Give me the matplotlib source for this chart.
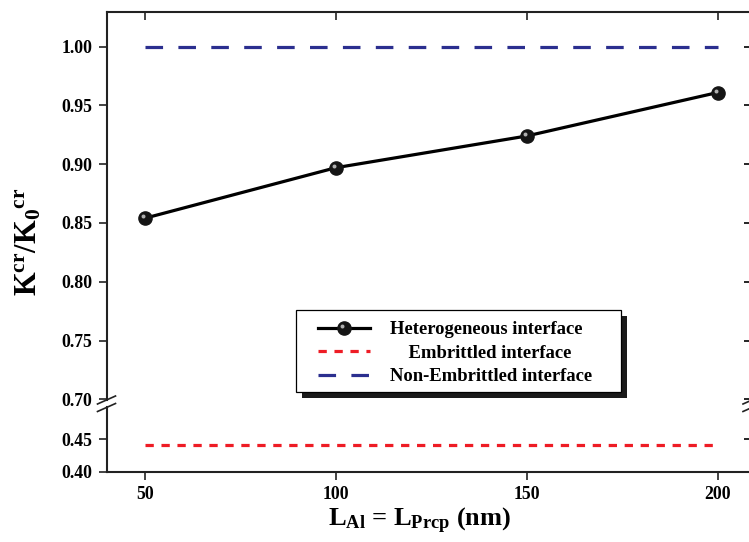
import matplotlib
matplotlib.use("Agg")
import matplotlib.pyplot as plt
import numpy as np
from matplotlib.lines import Line2D
from matplotlib.patches import Rectangle
from matplotlib.path import Path

plt.rcParams['font.family'] = ['Liberation Serif', 'DejaVu Serif']
plt.rcParams['font.weight'] = 'bold'
plt.rcParams['mathtext.fontset'] = 'custom'
plt.rcParams['mathtext.rm'] = 'Liberation Serif:bold'
plt.rcParams['mathtext.it'] = 'Liberation Serif:bold'
plt.rcParams['mathtext.bf'] = 'Liberation Serif:bold'
plt.rcParams['mathtext.default'] = 'rm'

# data
length_nm = [50, 100, 150, 200]
heterogeneous = [0.854, 0.897, 0.924, 0.961]
embrittled = [0.442, 0.442, 0.442, 0.442]
non_embrittled = [1.00, 1.00, 1.00, 1.00]
upper_ticks = [0.70, 0.75, 0.80, 0.85, 0.90, 0.95, 1.00]
lower_ticks = [0.40, 0.45]
x_ticks = [50, 100, 150, 200]

RED = '#ee1c25'
BLUE = '#2b2f8f'

# small off-centre highlight to give the markers a ball look
circ = Path.circle((-0.3, 0.3), 0.3)
glint = Path(np.vstack([[[1, 1], [-1, -1]], circ.vertices]),
             np.concatenate([[Path.MOVETO, Path.MOVETO], circ.codes]))

W, H = 749, 542
fig = plt.figure(figsize=(W / 100, H / 100), dpi=100)

left = 106.5 / W
right = 752 / W
ax_top = fig.add_axes([left, 1 - 400 / H, right - left, (400 - 12) / H])
ax_bot = fig.add_axes([left, 1 - 472 / H, right - left, (472 - 407) / H], sharex=ax_top)

for ax in (ax_top, ax_bot):
    ax.plot(length_nm, heterogeneous, color='black', lw=2.3, marker='o', ms=9.5,
            mfc='#151515', mec='#151515', zorder=3)
    ax.plot(length_nm, heterogeneous, ls='none', marker=glint, ms=9.5,
            mfc='#b0b0b0', mec='none', zorder=4)
    ax.plot(length_nm, embrittled, color=RED, lw=2.3, dashes=(2.6, 2.4))
    ax.plot(length_nm, non_embrittled, color=BLUE, lw=2.3, dashes=(5.5, 4.8))
    for s in ax.spines.values():
        s.set_linewidth(1.5)
        s.set_color('#222222')

ax_top.set_xlim(40, 209)
ax_top.set_ylim(0.6994, 1.0295)
ax_bot.set_ylim(0.40, 0.4994)

ax_top.spines['bottom'].set_visible(False)
ax_bot.spines['top'].set_visible(False)

ax_top.set_yticks(upper_ticks)
ax_top.set_yticklabels(['%.2f' % v for v in upper_ticks])
ax_bot.set_yticks(lower_ticks)
ax_bot.set_yticklabels(['%.2f' % v for v in lower_ticks])
ax_bot.set_xticks(x_ticks)
ax_bot.set_xticklabels([str(v) for v in x_ticks])

tick_kw = dict(length=6, width=1.2, color='#222222', labelsize=12.8, pad=4)
ax_top.tick_params(axis='y', left=True, right=False, direction='out', **tick_kw)
ax_top.tick_params(axis='x', bottom=False, top=True, labelbottom=False, direction='in', **tick_kw)
ax_bot.tick_params(axis='y', left=True, right=False, direction='out', **tick_kw)
ax_bot.tick_params(axis='x', bottom=True, top=False, direction='out', **tick_kw)
# mirrored ticks on the right side, pointing inward
for ax, ticks in ((ax_top, upper_ticks), (ax_bot, lower_ticks)):
    sec = ax.secondary_yaxis('right')
    sec.set_yticks(ticks)
    sec.tick_params(direction='in', length=6, width=1.2, labelright=False)
    sec.spines['right'].set_linewidth(1.5)

# axis break marks
for xp in (106.5, 752):
    for yp in (400, 407.5):
        fig.add_artist(Line2D([(xp - 9) / W, (xp + 9) / W],
                              [1 - (yp + 4) / H, 1 - (yp - 4) / H],
                              transform=fig.transFigure, color='#222222', lw=1.2))

fig.text(29 / W, 1 - 242 / H, r'$K^{cr}/K_0{}^{cr}$', rotation=90, fontsize=22,
         ha='center', va='center')
fig.text(420 / W, 1 - 521 / H, r'$L_{Al}$ = $L_{Prcp}$ (nm)', fontsize=19,
         ha='center', va='center', fontweight='bold')

# legend frame with solid shadow
ax_top.add_patch(Rectangle((302 / W, 1 - 398 / H), 325 / W, 82 / H,
                           transform=fig.transFigure, facecolor='#1a1a1a',
                           edgecolor='none', zorder=8, clip_on=False))
ax_top.add_patch(Rectangle((296 / W, 1 - 392 / H), 325 / W, 82 / H,
                           transform=fig.transFigure, facecolor='white',
                           edgecolor='black', lw=0.9, zorder=9, clip_on=False))

h1 = (Line2D([], [], color='black', lw=2.3, marker='o', ms=9.5, mfc='#151515', mec='#151515'),
      Line2D([], [], ls='none', marker=glint, ms=9.5, mfc='#b0b0b0', mec='none'))
h2 = Line2D([], [], color=RED, lw=2.3, dashes=(2.6, 2.4))
h3 = Line2D([], [], color=BLUE, lw=2.3, dashes=(5.5, 4.8))
leg = ax_top.legend([h1, h2, h3],
                    ['Heterogeneous interface', '    Embrittled interface',
                     'Non-Embrittled interface'],
                    loc='upper left', bbox_to_anchor=(318 / W, 1 - 321 / H),
                    bbox_transform=fig.transFigure, borderaxespad=0,
                    frameon=False, borderpad=0,
                    prop={'family': 'Liberation Serif', 'weight': 'bold', 'size': 13.4},
                    handlelength=2.8, handletextpad=1.07, labelspacing=0.36)
leg.set_zorder(10)

fig.savefig('out.png', dpi=100)
